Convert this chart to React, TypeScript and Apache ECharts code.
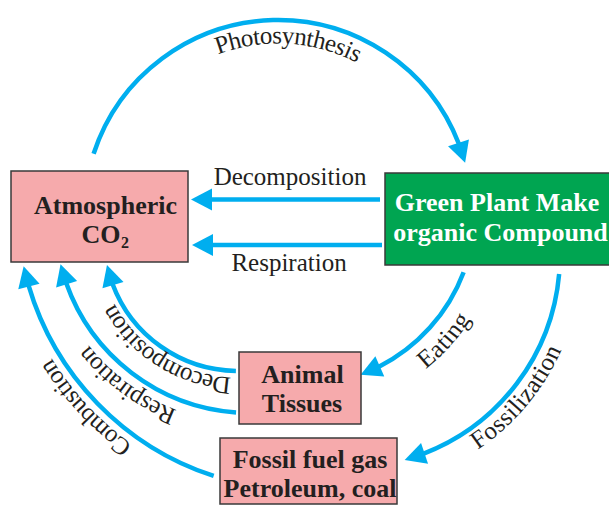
import React, { useEffect, useRef } from 'react';
import * as echarts from 'echarts';

// ---- diagram content ----
const atmosphereLines = ['Atmospheric', 'CO', '2'];
const plantLines = ['Green Plant Make', 'organic Compound'];
const animalLines = ['Animal', 'Tissues'];
const fossilLines = ['Fossil fuel gas', 'Petroleum, coal'];
const straightFlowLabels = ['Decomposition', 'Respiration'];
const curvedFlowLabels = ['Photosynthesis', 'Eating', 'Fossilization', 'Decomposition', 'Respiration', 'Combustion'];

// ---- styles ----
const W = 609;
const H = 507;
const BLUE = '#00AEEF';
const INK = '#231F20';
const PINK = '#F6AAAC';
const GREEN = '#00A551';
const BORDER = '#3A3A3A';
const SERIF = '"Liberation Serif", "Times New Roman", Times, serif';
const LW = 4.5;
const AH_L = 21;
const AH_W = 22;
const REG = 25;
const BOLD = 26;

const rad = (d: number) => (d * Math.PI) / 180;

let measureCtx: CanvasRenderingContext2D | null = null;
function textWidth(t: string, size: number, bold = false) {
  if (!measureCtx) measureCtx = document.createElement('canvas').getContext('2d');
  measureCtx!.font = `${bold ? 'bold ' : ''}${size}px ${SERIF}`;
  return measureCtx!.measureText(t).width;
}

function box(x: number, y: number, w: number, h: number, fill: string) {
  return { type: 'rect', shape: { x, y, width: w, height: h }, style: { fill, stroke: BORDER, lineWidth: 1.5 } };
}

function label(text: string, x: number, y: number, size: number, bold: boolean, color: string, align = 'center') {
  return {
    type: 'text', x, y,
    style: { text, x: 0, y: 0, align, verticalAlign: 'middle', fill: color, fontSize: size, fontFamily: SERIF, fontWeight: bold ? 'bold' : 'normal' },
  };
}

function arrowHead(tip: number[], ux: number, uy: number) {
  const bx = tip[0] - AH_L * ux;
  const by = tip[1] - AH_L * uy;
  const nx = -uy;
  const ny = ux;
  return {
    type: 'polygon',
    shape: { points: [tip, [bx + (nx * AH_W) / 2, by + (ny * AH_W) / 2], [bx - (nx * AH_W) / 2, by - (ny * AH_W) / 2]] },
    style: { fill: BLUE },
  };
}

function arcArrow(cx: number, cy: number, r: number, fromDeg: number, tipDeg: number) {
  const a0 = rad(fromDeg);
  const at = rad(tipDeg);
  const aEnd = at - AH_L / r;
  const tip = [cx + r * Math.cos(at), cy + r * Math.sin(at)];
  const end = [cx + r * Math.cos(aEnd), cy + r * Math.sin(aEnd)];
  const dx = tip[0] - end[0];
  const dy = tip[1] - end[1];
  const len = Math.hypot(dx, dy);
  return [
    { type: 'arc', shape: { cx, cy, r, startAngle: a0, endAngle: aEnd + 1.5 / r, clockwise: true }, style: { stroke: BLUE, lineWidth: LW, fill: 'none' } },
    arrowHead(tip, dx / len, dy / len),
  ];
}

function straightArrow(xFrom: number, xTip: number, y: number) {
  return [
    { type: 'line', shape: { x1: xFrom, y1: y, x2: xTip + AH_L - 1, y2: y }, style: { stroke: BLUE, lineWidth: LW } },
    arrowHead([xTip, y], -1, 0),
  ];
}

// text along a circle; cw = reading clockwise (tops outward), else counter-clockwise (tops inward)
function curvedText(text: string, cx: number, cy: number, R: number, centerDeg: number, cw: boolean, size = REG) {
  const chars = Array.from(text);
  const widths = chars.map((c) => textWidth(c, size));
  const total = widths.reduce((a, b) => a + b, 0);
  const sign = cw ? 1 : -1;
  const start = rad(centerDeg) - (sign * total) / (2 * R);
  let cum = 0;
  return chars.map((ch, i) => {
    const a = start + (sign * (cum + widths[i] / 2)) / R;
    cum += widths[i];
    const rot = cw ? -(a + Math.PI / 2) : Math.PI / 2 - a;
    return {
      type: 'text', x: cx + R * Math.cos(a), y: cy + R * Math.sin(a), rotation: rot,
      style: { text: ch, x: 0, y: 0, align: 'center', verticalAlign: 'middle', fill: INK, fontSize: size, fontFamily: SERIF },
    };
  });
}

function buildElements() {
  const els: any[] = [];
  // arrows
  els.push(...arcArrow(278, 214, 194, 198.1, 344.7)); // photosynthesis
  els.push(...straightArrow(380, 191, 199.5));
  els.push(...straightArrow(382, 192, 245));
  els.push(...arcArrow(299, 210, 176, 20.7, 69.5)); // eating
  els.push(...arcArrow(347, 255, 213, 5.1, 74.3)); // fossilization
  els.push(...arcArrow(238, 237, 134, 90.9, 167.9)); // decomposition (animal)
  els.push(...arcArrow(250, 218, 195, 94.1, 166.3)); // respiration (animal)
  els.push(...arcArrow(302, 205, 285, 108.05, 167.6)); // combustion

  // boxes
  els.push(box(11, 171, 177, 91, PINK));
  els.push(box(385, 173, 230, 92, GREEN));
  els.push(box(239, 352, 122, 72, PINK));
  els.push(box(220, 438, 177, 66, PINK));

  // box texts
  els.push(label(atmosphereLines[0], 105.5, 205, BOLD, true, INK));
  const coW = textWidth(atmosphereLines[1], BOLD, true);
  const twoW = textWidth(atmosphereLines[2], 16, true);
  const coLeft = 105 - (coW + twoW) / 2;
  els.push(label(atmosphereLines[1], coLeft, 234, BOLD, true, INK, 'left'));
  els.push(label(atmosphereLines[2], coLeft + coW + 0.5, 242, 16, true, INK, 'left'));

  els.push(label(plantLines[0], 497, 202, BOLD, true, '#FFFFFF'));
  els.push(label(plantLines[1], 500.5, 232, BOLD, true, '#FFFFFF'));
  els.push(label(animalLines[0], 302.5, 374, BOLD, true, INK));
  els.push(label(animalLines[1], 302, 403, BOLD, true, INK));
  els.push(label(fossilLines[0], 310, 459, BOLD, true, INK));
  els.push(label(fossilLines[1], 310, 488, BOLD, true, INK));

  // straight flow labels
  els.push(label(straightFlowLabels[0], 290, 176, REG, false, INK));
  els.push(label(straightFlowLabels[1], 289, 262, REG, false, INK));

  // curved flow labels
  els.push(...curvedText(curvedFlowLabels[0], 278, 214, 179, -86.5, true));
  els.push(...curvedText(curvedFlowLabels[1], 299, 210, 195, 42, false));
  els.push(...curvedText(curvedFlowLabels[2], 347, 255, 226, 40, false));
  els.push(...curvedText(curvedFlowLabels[3], 238, 237, 149, 122.3, true));
  els.push(...curvedText(curvedFlowLabels[4], 250, 218, 214, 126.3, true));
  els.push(...curvedText(curvedFlowLabels[5], 302, 205, 302, 136.9, true));
  return els;
}

export default function App() {
  const ref = useRef<HTMLDivElement>(null);
  useEffect(() => {
    if (!ref.current) return;
    const chart = echarts.init(ref.current, null, { renderer: 'svg' });
    chart.setOption({
      animation: false,
      backgroundColor: '#FFFFFF',
      graphic: { elements: buildElements() },
    });
    return () => chart.dispose();
  }, []);
  return <div ref={ref} style={{ position: 'absolute', left: 0, top: 0, width: W, height: H, background: '#fff' }} />;
}
